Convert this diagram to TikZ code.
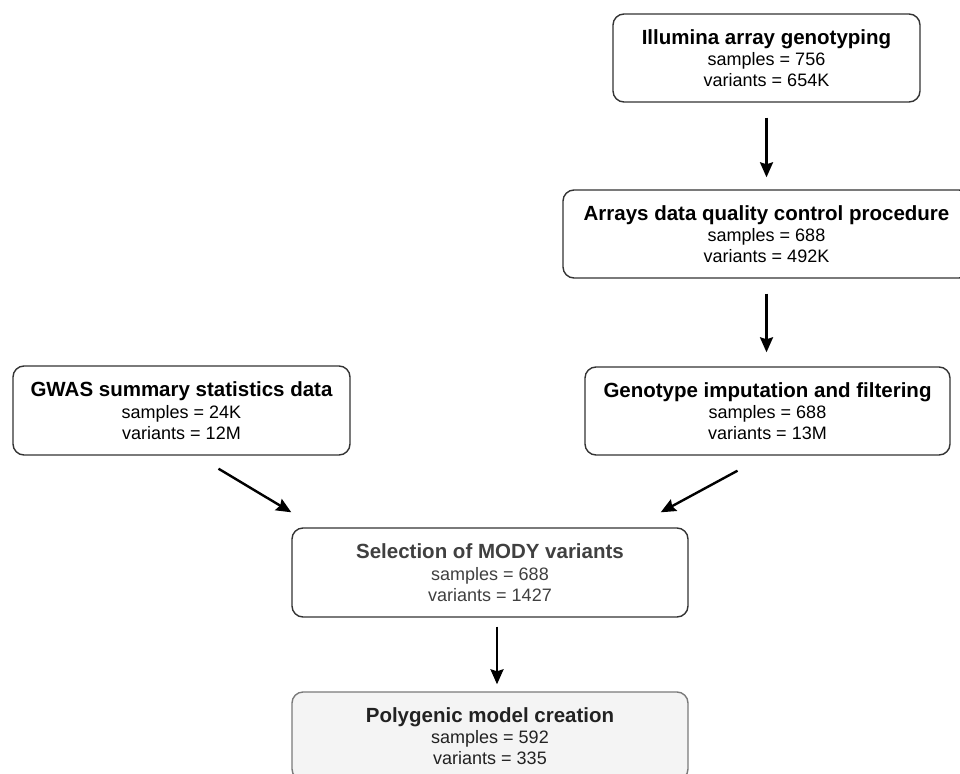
\documentclass[tikz,border=0pt]{standalone}
\usepackage{fontspec}
\setmainfont{Liberation Sans}
\usetikzlibrary{arrows.meta,calc}
\definecolor{boxline}{HTML}{333333}
\definecolor{seltext}{HTML}{404040}
\definecolor{polytext}{HTML}{222222}
\definecolor{polyfill}{HTML}{F4F4F4}
\definecolor{polyline}{HTML}{7A7A7A}
\newcommand{\boxtext}[3]{{\bfseries\fontsize{20.5}{21}\selectfont #1}\\[0.5pt]samples = #2\\variants = #3}
\begin{document}
\begin{tikzpicture}[x=1pt,y=-1pt,
  flowbox/.style={draw=boxline, line width=1.4pt, rounded corners=11pt, fill=white,
    align=center, inner sep=0pt, font=\fontsize{18}{21}\selectfont, text=black},
  flowarrow/.style={line width=2.4pt, -{Stealth[length=15pt,width=13pt,inset=2pt]}}]
\useasboundingbox (0,0) rectangle (960,773);
\node[flowbox, minimum width=307pt, minimum height=88pt] (illumina) at (766.5,58)
  {\boxtext{Illumina array genotyping}{756}{654K}};
\node[flowbox, minimum width=407pt, minimum height=88pt] (arrays) at (766.5,234)
  {\boxtext{Arrays data quality control procedure}{688}{492K}};
\node[flowbox, minimum width=365pt, minimum height=88pt] (genotype) at (767.5,411)
  {\boxtext{Genotype imputation and filtering}{688}{13M}};
\node[flowbox, minimum width=337pt, minimum height=89pt] (gwas) at (181.5,410.5)
  {\boxtext{GWAS summary statistics data}{24K}{12M}};
\node[flowbox, minimum width=396pt, minimum height=89pt, text=seltext] (selection) at (490,572.5)
  {\boxtext{Selection of MODY variants}{688}{1427}};
\node[flowbox, minimum width=396pt, minimum height=88pt, fill=polyfill, draw=polyline, text=polytext] (polygenic) at (490,736)
  {\boxtext{Polygenic model creation}{592}{335}};
\draw[flowarrow, shorten <=15pt, shorten >=12pt] (illumina.south) -- (illumina.south |- arrays.north);
\draw[flowarrow, shorten <=15pt, shorten >=14pt] (arrays.south) -- (arrays.south |- genotype.north);
\draw[flowarrow] ($(gwas.south)+(37,13)$) -- ($(selection.north west)+(0,-15)$);
\draw[flowarrow] ($(genotype.south)+(-30,15)$) -- ($(selection.north east)+(-28,-15)$);
\draw[flowarrow, shorten <=9pt, shorten >=7pt] ($(selection.south)+(7,0)$) -- ($(polygenic.north)+(7,0)$);
\end{tikzpicture}
\end{document}
